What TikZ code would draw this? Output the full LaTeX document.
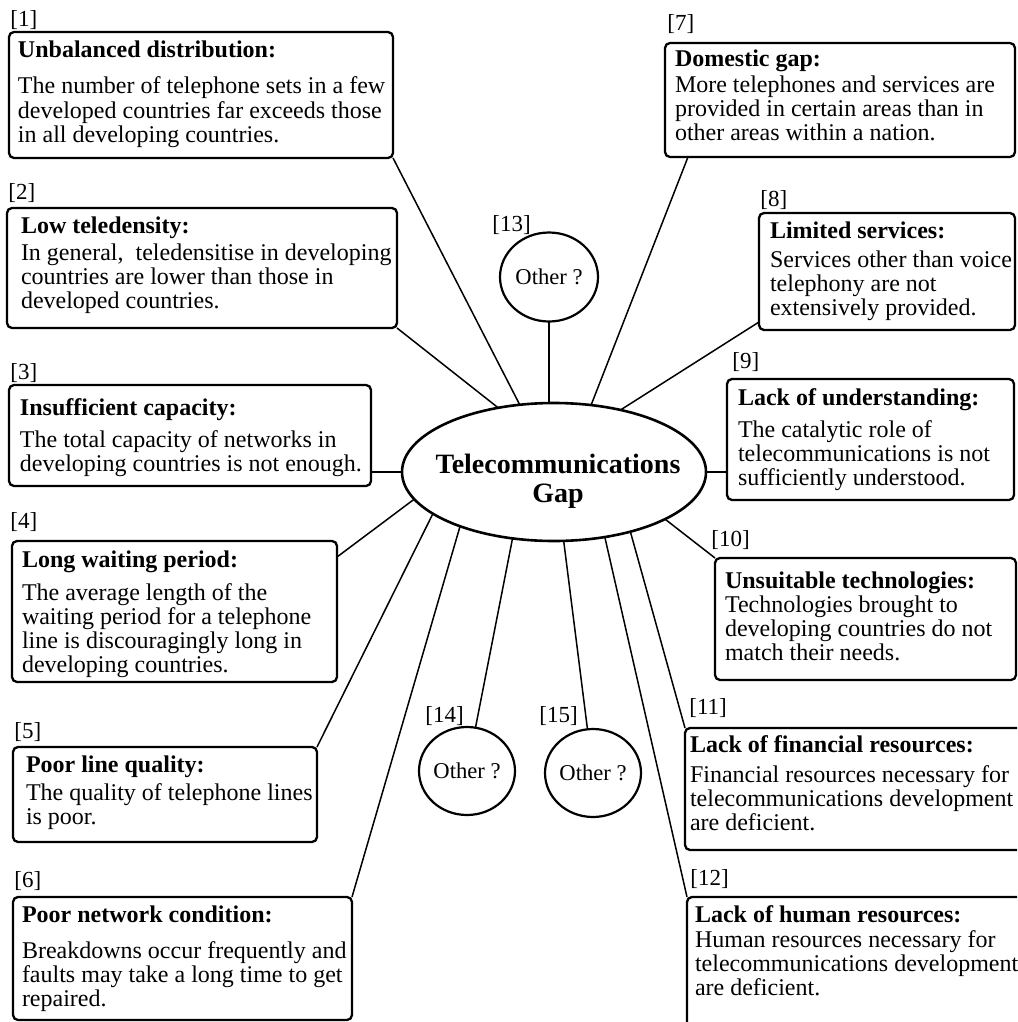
\documentclass[tikz,border=0pt]{standalone}
\usepackage{fontspec}
\setmainfont{Liberation Serif}
\usetikzlibrary{calc,shapes.geometric}
\newdimen\upx \upx=0.5pt
% #1 width px, #2 height px, #3 left pad px, #4 first baseline px, #5 heading gap px, #6 line pitch px, #7 heading, #8 body
\newcommand\bxt[8]{\begin{minipage}[t][#2\upx][t]{#1\upx}%
\fontsize{12}{12}\selectfont\setlength\baselineskip{#6\upx}%
\setlength\parindent{0pt}\setlength\leftskip{#3\upx}%
\rule{0pt}{#4\upx}\textbf{#7}\par\vspace{\dimexpr #5\upx - #6\upx\relax}%
\begin{tabular}[t]{@{}l@{}}#8\end{tabular}\par\vfill\end{minipage}}
\tikzset{
 bx/.style={draw, line width=1.15pt, rounded corners=2.5pt, inner sep=0pt, outer sep=0pt, anchor=north west},
 conn/.style={line width=0.75pt},
 lab/.style={inner sep=0pt, anchor=west, font=\fontsize{11.5}{12}\selectfont},
 oth/.style={draw, ellipse, line width=1.1pt, inner sep=0pt, outer sep=0pt, minimum width=48pt, minimum height=44pt, font=\fontsize{11.3}{12}\selectfont},
 hub/.style={draw, ellipse, line width=1.3pt, inner sep=0pt, outer sep=0pt, minimum width=152pt, minimum height=69pt},
 title/.style={align=center, font=\bfseries\fontsize{14}{14.5}\selectfont, inner sep=0pt}
}
\begin{document}
\begin{tikzpicture}[x=0.5pt,y=-0.5pt]
\useasboundingbox (0,0) rectangle (1017,1022);
\clip (0,0) rectangle (1017,1022);
% hub
\node[hub] (ell) at (554,472) {};
\node[title] (tt) at (558,481) {Telecommunications\\Gap};
% left boxes
\node[bx] (b1) at (9,32) {\bxt{384}{126}{9}{26}{36}{22.5}{Unbalanced distribution:}{The number of telephone sets in a few\\developed countries far exceeds those\\in all developing countries.}};
\node[bx] (b2) at (7,208) {\bxt{390}{120}{14}{25}{27}{25}{Low teledensity:}{In general,~ teledensitise in developing\\countries are lower than those in\\developed countries.}};
\node[bx] (b3) at (9,385) {\bxt{362}{101}{11}{30}{32}{23}{Insufficient capacity:}{The total capacity of networks in\\developing countries is not enough.}};
\node[bx] (b4) at (12,541) {\bxt{325}{141}{10}{26}{33}{22.7}{Long waiting period:}{The average length of the\\waiting period for a telephone\\line is discouragingly long in\\developing countries.}};
\node[bx] (b5) at (13,747) {\bxt{304}{95}{13}{25}{28}{23}{Poor line quality:}{The quality of telephone lines\\is poor.}};
\node[bx] (b6) at (13,897) {\bxt{339}{123}{9}{25}{36}{23.5}{Poor network condition:}{Breakdowns occur frequently and\\faults may take a long time to get\\repaired.}};
% right boxes
\node[bx] (b7) at (665,43) {\bxt{350}{114}{10}{24}{26}{23.5}{Domestic gap:}{More telephones and services are\\provided in certain areas than in\\other areas within a nation.}};
\node[bx] (b8) at (759,213) {\bxt{256}{117}{11}{25}{29}{24}{Limited services:}{Services other than voice\\telephony are not\\extensively provided.}};
\node[bx] (b9) at (727,379) {\bxt{287}{121}{11}{26}{32}{23}{Lack of understanding:}{The catalytic role of\\telecommunications is not\\sufficiently understood.}};
\node[bx] (b10) at (715,558) {\bxt{301}{122}{10}{30}{24}{22.5}{Unsuitable technologies:}{Technologies brought to\\developing countries do not\\match their needs.}};
\node[bx] (b11) at (685,728) {\bxt{355}{122}{5}{24}{30}{23}{Lack of financial resources:}{Financial resources necessary for\\telecommunications development\\are deficient.}};
\node[bx] (b12) at (687,897) {\bxt{353}{148}{8}{25}{25}{23}{Lack of human resources:}{Human resources necessary for\\telecommunications development\\are deficient.}};
% other circles
\node[oth, minimum width=49pt, minimum height=44.5pt] (c13) at (549,277) {Other ?};
\node[oth] (c14) at (467,771) {Other ?};
\node[oth] (c15) at (593,773) {Other ?};
% labels
\node[lab] (l1) at (10,20) {[1]};
\node[lab] (l2) at (8,193) {[2]};
\node[lab] (l3) at (10,373) {[3]};
\node[lab] (l4) at (10,522) {[4]};
\node[lab] (l5) at (14,732) {[5]};
\node[lab] (l6) at (14,881) {[6]};
\node[lab] (l7) at (667,24) {[7]};
\node[lab] (l8) at (760,200) {[8]};
\node[lab] (l9) at (732,362) {[9]};
\node[lab] (l10) at (711,540) {[10]};
\node[lab] (l11) at (689,708) {[11]};
\node[lab] (l12) at (690,879) {[12]};
\node[lab] (l13) at (492,225) {[13]};
\node[lab] (l14) at (425,716) {[14]};
\node[lab] (l15) at (539,716) {[15]};
% connectors
\draw[conn] (b1.south east) -- (ell.117.9);
\draw[conn] (b2.south east) -- (ell.131.5);
\draw[conn] (ell.180) -- (ell.180 -| b3.east);
\draw[conn] ($(b4.north east)+(0,16)$) -- (ell.191.9);
\draw[conn] (b5.north east) -- (ell.199.5);
\draw[conn] (b6.north east) -- (ell.210.4);
\draw[conn] (c14) -- (ell.238.9);
\draw[conn] (c15) -- (ell.278.8);
\draw[conn] (b12.north west) -- (ell.308.5);
\draw[conn] (b11.north west) -- (ell.322.8);
\draw[conn] (b10.north west) -- (ell.337.9);
\draw[conn] (ell.0) -- (ell.0 -| b9.west);
\draw[conn] ($(b8.south west)+(0,-8)$) -- (ell.43.3);
\draw[conn] ($(b7.south west)+(23,0)$) -- (ell.61.2);
\draw[conn] (c13.south) -- (c13.south |- ell.north);
\end{tikzpicture}
\end{document}
